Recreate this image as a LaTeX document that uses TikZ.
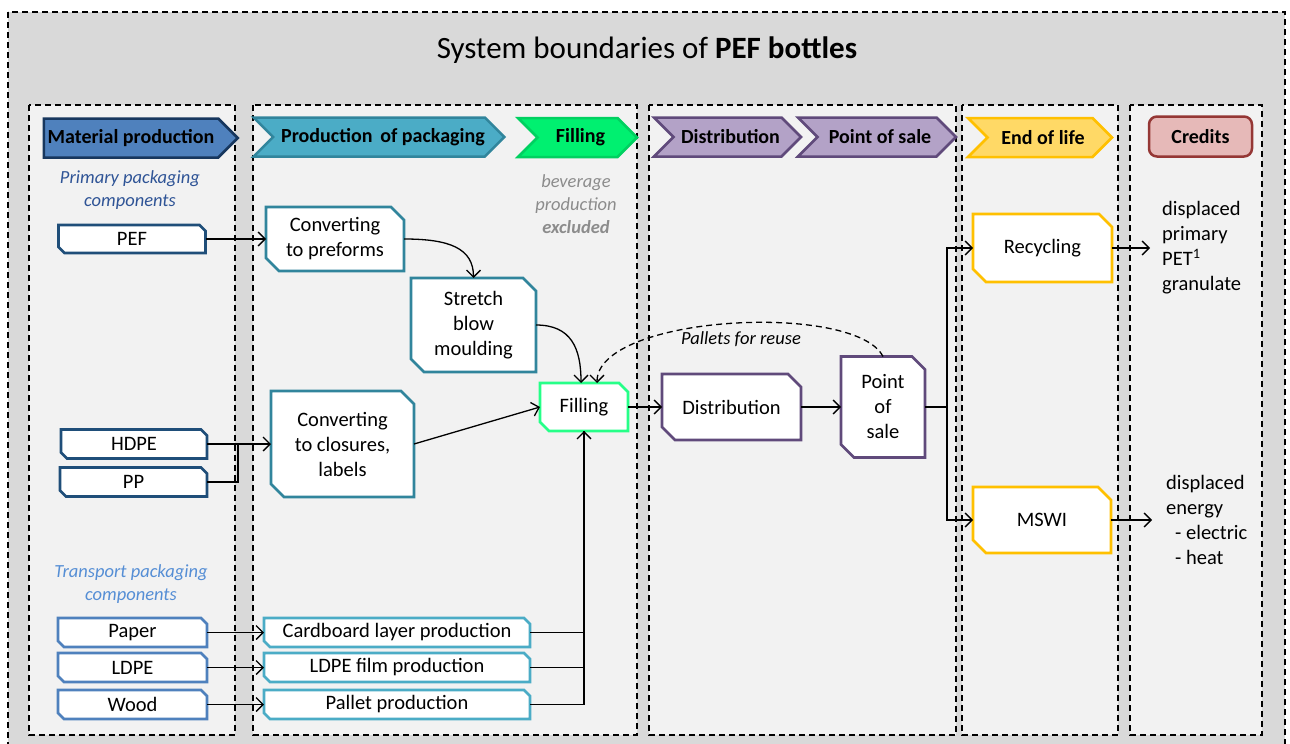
\documentclass[tikz,border=0pt]{standalone}
\usepackage{fontspec}
\setmainfont{Carlito}
\usetikzlibrary{shapes.symbols,arrows.meta}

\definecolor{outergray}{HTML}{D9D9D9}
\definecolor{zonegray}{HTML}{F2F2F2}
\definecolor{matfill}{HTML}{4F81BD}
\definecolor{matdraw}{HTML}{17375E}
\definecolor{matbox}{HTML}{1F4E79}
\definecolor{transbox}{HTML}{4F81BD}
\definecolor{packfill}{HTML}{4BACC6}
\definecolor{packdraw}{HTML}{31859C}
\definecolor{fillfill}{HTML}{00F070}
\definecolor{filldraw}{HTML}{00D060}
\definecolor{fillbox}{HTML}{26FF88}
\definecolor{distfill}{HTML}{B3A2C7}
\definecolor{distdraw}{HTML}{604A7B}
\definecolor{eolfill}{HTML}{FFD966}
\definecolor{eoldraw}{HTML}{FFC000}
\definecolor{credfill}{HTML}{E6B9B8}
\definecolor{creddraw}{HTML}{953735}
\definecolor{primtext}{HTML}{2F5496}
\definecolor{transtext}{HTML}{558ED5}
\definecolor{beveragetext}{HTML}{8C8C8C}

% rectangle with the top right and bottom left corners cut off
\makeatletter
\pgfkeys{/pgf/cut size/.initial=12pt}
\pgfdeclareshape{cut rectangle}{
  \inheritsavedanchors[from=rectangle]
  \inheritanchorborder[from=rectangle]
  \inheritanchor[from=rectangle]{center}
  \inheritanchor[from=rectangle]{north}
  \inheritanchor[from=rectangle]{south}
  \inheritanchor[from=rectangle]{east}
  \inheritanchor[from=rectangle]{west}
  \inheritanchor[from=rectangle]{north east}
  \inheritanchor[from=rectangle]{north west}
  \inheritanchor[from=rectangle]{south east}
  \inheritanchor[from=rectangle]{south west}
  \inheritanchor[from=rectangle]{text}
  \inheritanchor[from=rectangle]{base}
  \inheritanchor[from=rectangle]{mid}
  \backgroundpath{%
    \pgfmathsetlength\pgfutil@tempdima{\pgfkeysvalueof{/pgf/cut size}}%
    \edef\cutlen{\the\pgfutil@tempdima}%
    \southwest \edef\cutxa{\the\pgf@x}\edef\cutya{\the\pgf@y}%
    \northeast \edef\cutxb{\the\pgf@x}\edef\cutyb{\the\pgf@y}%
    \pgfpathmoveto{\pgfqpoint{\cutxa}{\cutyb}}%
    \pgfpathlineto{\pgfqpoint{\dimexpr\cutxb-\cutlen\relax}{\cutyb}}%
    \pgfpathlineto{\pgfqpoint{\cutxb}{\dimexpr\cutyb-\cutlen\relax}}%
    \pgfpathlineto{\pgfqpoint{\cutxb}{\cutya}}%
    \pgfpathlineto{\pgfqpoint{\dimexpr\cutxa+\cutlen\relax}{\cutya}}%
    \pgfpathlineto{\pgfqpoint{\cutxa}{\dimexpr\cutya+\cutlen\relax}}%
    \pgfpathclose
  }
}
\makeatother
\tikzset{cut size/.code={\pgfkeyssetvalue{/pgf/cut size}{#1}}}

\begin{document}
\begin{tikzpicture}[x=1pt,y=-1pt,
  every node/.style={font=\fontsize{20.5}{25}\selectfont},
  zone/.style={draw, dash pattern=on 6pt off 4pt, line width=1.3pt, fill=zonegray},
  phase/.style={signal, signal to=east, signal from=west, signal pointer angle=90,
    draw, line width=2.5pt, minimum height=39pt, inner sep=0pt,
    font=\bfseries\fontsize{20}{24}\selectfont},
  procbox/.style={cut rectangle, cut size=13pt, draw, fill=white, line width=2.6pt,
    inner sep=0pt, outer sep=0pt, align=center},
  inbox/.style={procbox, cut size=6pt},
  note/.style={align=center, font=\itshape\fontsize{18.5}{23}\selectfont},
  conn/.style={-{Straight Barb[length=7pt,width=14pt]}, line width=1.3pt}]

\useasboundingbox (0,0) rectangle (1290,744);

% Grey frame and the five life cycle zones
\draw[zone, fill=outergray] (8,12) rectangle (1285,770);
\draw[zone] (29,105) rectangle (235,735);
\draw[zone] (253,105) rectangle (637,735);
\draw[zone] (649,105) rectangle (956,735);
\draw[zone] (962,105) rectangle (1118,735);
\draw[zone] (1130,105) rectangle (1262,735);

\node[font=\fontsize{31}{36}\selectfont] (title) at (647,50) {System boundaries of \textbf{PEF bottles}};

% Phase headers
\node[phase, signal from=nowhere, fill=matfill, draw=matdraw, minimum width=194pt] (hmat) at (131,138) {Material production};
\node[phase, fill=packfill, draw=packdraw, minimum width=246pt] (hpack) at (379,137) {\hspace*{8pt}Production\, of packaging};
\node[phase, fill=fillfill, draw=filldraw, minimum width=119pt] (hfill) at (577.5,137.5) {\hspace*{6pt}Filling};
\node[phase, fill=distfill, draw=distdraw, minimum width=147pt] (hdist) at (727.5,137) {\hspace*{6pt}Distribution};
\node[phase, fill=distfill, draw=distdraw, minimum width=158pt] (hpos) at (877,137) {\hspace*{6pt}Point of sale};
\node[phase, fill=eolfill, draw=eoldraw, minimum width=144pt] (heol) at (1040,137.5) {\hspace*{6pt}End of life};
\node[draw=creddraw, fill=credfill, line width=2.5pt, rounded corners=8pt, minimum width=103pt, minimum height=40pt,
  font=\bfseries\fontsize{20}{24}\selectfont] (hcred) at (1200.5,136.5) {Credits};

% Notes
\node[note, text=primtext] (primary) at (130,190) {Primary packaging\\components};
\node[note, text=transtext] (transport) at (131,584) {Transport packaging\\components};
\node[note, text=beveragetext] (beverage) at (576,204) {beverage\\production\\\textbf{excluded}};
\node[note] (reuse) at (741,339) {Pallets for reuse};

% Materials
\node[inbox, draw=matbox, minimum width=147pt, minimum height=28pt] (pef) at (132,239) {PEF};
\node[inbox, draw=matbox, minimum width=146pt, minimum height=29pt] (hdpe) at (134,444) {HDPE};
\node[inbox, draw=matbox, minimum width=147pt, minimum height=29pt] (pp) at (133.5,482) {PP};
\node[inbox, draw=transbox, minimum width=149pt, minimum height=29pt] (paper) at (132.5,632.5) {Paper};
\node[inbox, draw=transbox, minimum width=149pt, minimum height=29pt] (ldpe) at (132.5,667.5) {LDPE};
\node[inbox, draw=transbox, minimum width=149pt, minimum height=29pt] (wood) at (132.5,704.5) {Wood};

% Packaging production and filling
\node[procbox, draw=packdraw, minimum width=138pt, minimum height=64pt] (pref) at (335,239) {Converting\\to preforms};
\node[procbox, draw=packdraw, minimum width=125pt, minimum height=94pt] (sbm) at (473.5,325) {Stretch\\blow\\moulding};
\node[procbox, draw=packdraw, minimum width=143pt, minimum height=106pt] (clos) at (342.5,444) {Converting\\to closures,\\labels};
\node[procbox, draw=fillbox, cut size=9pt, minimum width=88pt, minimum height=48pt] (fill) at (584,407) {Filling};
\node[inbox, draw=packfill, minimum width=266pt, minimum height=29pt] (card) at (397,632.5) {Cardboard layer production};
\node[inbox, draw=packfill, minimum width=266pt, minimum height=29pt] (film) at (397,667.5) {LDPE film production};
\node[inbox, draw=packfill, minimum width=266pt, minimum height=29pt] (pall) at (397,704.5) {Pallet production};

% Distribution and sale
\node[procbox, draw=distdraw, minimum width=139pt, minimum height=66pt] (dist) at (731.5,407) {Distribution};
\node[procbox, draw=distdraw, minimum width=84pt, minimum height=101pt] (pos) at (883,407) {Point\\of\\sale};

% End of life and credits
\node[procbox, draw=eoldraw, minimum width=139pt, minimum height=68pt] (recy) at (1042.5,248) {Recycling};
\node[procbox, draw=eoldraw, minimum width=138pt, minimum height=66pt] (mswi) at (1042,520) {MSWI};
\node[anchor=west, align=left, inner xsep=12pt, inner ysep=0pt] (cr1) at (1150,248) {displaced\\primary\\PET\textsuperscript{1}\\granulate};
\node[anchor=west, align=left, inner xsep=14pt, inner ysep=0pt] (cr2) at (1152,520) {displaced\\energy\\\hspace*{9pt}- electric\\\hspace*{9pt}- heat};

% Flows
\draw[conn] (pef.east) -- (pref.west);
\draw[conn] (pref.east) .. controls +(45,0) and +(0,-30) .. (sbm.north);
\draw[conn] (sbm.east) .. controls +(35,0) and +(0,-35) .. ([xshift=-3pt]fill.north);
\draw[conn] (hdpe.east) -- (clos.west);
\draw[line width=1.3pt] (pp.east) -| ([xshift=31pt]hdpe.east);
\draw[conn] (clos.east) -- (fill.west);
\draw[conn] (paper.east) -- (card.west);
\draw[conn] (ldpe.east) -- (film.west);
\draw[conn] (wood.east) -- (pall.west);
\draw[line width=1.3pt] (card.east) -| (fill.south);
\draw[line width=1.3pt] (film.east) -| (fill.south);
\draw[conn] (pall.east) -| (fill.south);
\draw[conn] (fill.east) -- (dist.west);
\draw[conn] (dist.east) -- (pos.west);
\draw[conn, dash pattern=on 6pt off 4pt] (pos.north) .. controls +(-28,-55) and +(0,-68) .. ([xshift=13pt]fill.north);
\draw[conn] (pos.east) -- ++(22,0) |- (recy.west);
\draw[conn] (pos.east) -- ++(22,0) |- (mswi.west);
\draw[conn] (recy.east) -- (cr1.west);
\draw[conn] (mswi.east) -- (cr2.west);
\end{tikzpicture}
\end{document}
